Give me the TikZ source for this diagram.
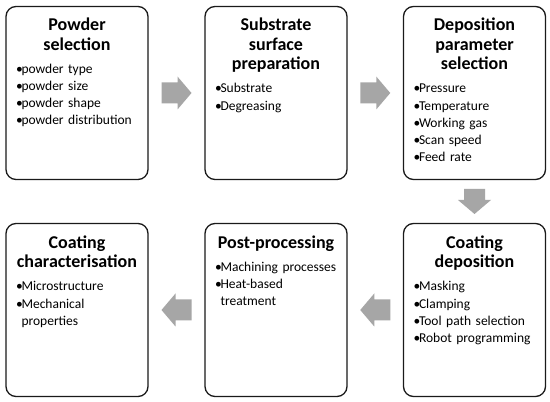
\documentclass[tikz,border=0pt]{standalone}
\usepackage{fontspec}
\setmainfont{Carlito}
\usetikzlibrary{positioning,calc}
\definecolor{arrowgrey}{HTML}{A6A6A6}
\definecolor{boxline}{HTML}{1A1A1A}

\newcommand{\stagetitle}[1]{{\centering\bfseries\fontsize{18}{19.5}\selectfont #1\par}\vspace{6pt}}
\newcommand{\stageitem}[1]{{\raggedright\leftskip=10pt\hangindent=5.5pt\hangafter=1\noindent\makebox[5.5pt][l]{\textbullet}#1\par}}

\begin{document}
\begin{tikzpicture}[x=1pt,y=1pt,
  stage/.style={draw=boxline,line width=1.3pt,rounded corners=10pt,minimum width=142pt,minimum height=173pt,inner sep=0pt},
  stagetext/.style={anchor=north,text width=142pt,inner sep=0pt,font=\fontsize{13.5}{17.2}\selectfont},
  pics/blockarrow/.style={code={\fill[arrowgrey] (-#1/2,-10.5) -- (#1/2-14,-10.5) -- (#1/2-14,-16.5) -- (#1/2,0) -- (#1/2-14,16.5) -- (#1/2-14,10.5) -- (-#1/2,10.5) -- cycle;}}]
  \fill[white] (0,0) rectangle (550,402);
  \useasboundingbox (0,0) rectangle (550,402);

  \node[stage] (psel) at (77,309) {};
  \node[stagetext,below=12pt of psel.north] (psel-t) {\stagetitle{Powder\\selection}
    \stageitem{powder type}
    \stageitem{powder size}
    \stageitem{powder shape}
    \stageitem{powder distribution}};

  \node[stage] (subprep) at (276,309) {};
  \node[stagetext,below=12pt of subprep.north] (subprep-t) {\stagetitle{Substrate\\surface\\preparation}
    \stageitem{Substrate}
    \stageitem{Degreasing}};

  \node[stage] (depsel) at (474.5,309) {};
  \node[stagetext,below=12pt of depsel.north] (depsel-t) {\stagetitle{Deposition\\parameter\\selection}
    \stageitem{Pressure}
    \stageitem{Temperature}
    \stageitem{Working gas}
    \stageitem{Scan speed}
    \stageitem{Feed rate}};

  \node[stage] (coatdep) at (474.5,92) {};
  \node[stagetext,below=12.5pt of coatdep.north] (coatdep-t) {\stagetitle{Coating\\deposition}
    \stageitem{Masking}
    \stageitem{Clamping}
    \stageitem{Tool path selection}
    \stageitem{Robot programming}};

  \node[stage] (postproc) at (276,92) {};
  \node[stagetext,below=12.5pt of postproc.north] (postproc-t) {\stagetitle{Post-processing}
    \stageitem{Machining processes}
    \stageitem{Heat-based\newline treatment}};

  \node[stage] (coatchar) at (77,92) {};
  \node[stagetext,below=12.5pt of coatchar.north] (coatchar-t) {\stagetitle{Coating\\characterisation}
    \stageitem{Microstructure}
    \stageitem{Mechanical\newline properties}};

  \pic at ($(psel.east)!0.5!(subprep.west)$) {blockarrow=30};
  \pic at ($(subprep.east)!0.5!(depsel.west)$) {blockarrow=30};
  \pic[rotate=-90] at ($(depsel.south)!0.5!(coatdep.north)$) {blockarrow=25};
  \pic[rotate=180] at ($(coatdep.west)!0.5!(postproc.east)$) {blockarrow=30};
  \pic[rotate=180] at ($(postproc.west)!0.5!(coatchar.east)$) {blockarrow=30};
\end{tikzpicture}
\end{document}
